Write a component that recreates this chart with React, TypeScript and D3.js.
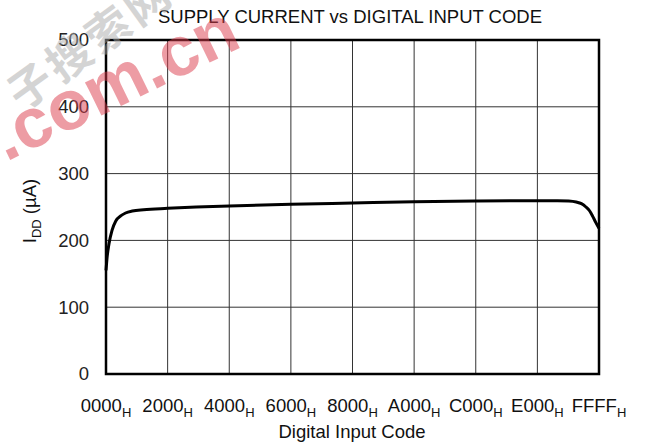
import React from "react";
import * as d3 from "d3";

const codes = [0, 150, 400, 800, 1300, 2000, 2600, 3500, 5000, 8192, 12000, 16384, 24576, 32768, 40960, 49152, 57344, 60000, 61500, 62500, 63200, 63800, 64300, 64700, 65100, 65535];
const currents = [155, 175, 195, 215, 229, 237, 241, 244, 246, 248, 250, 251.5, 254, 256, 258, 259, 259.5, 259.5, 259, 257.5, 255, 250, 244, 236, 227, 218];
const xTicks = [0, 8192, 16384, 24576, 32768, 40960, 49152, 57344, 65535];
const xTickLabels = ["0000", "2000", "4000", "6000", "8000", "A000", "C000", "E000", "FFFF"];
const yTicks = [0, 100, 200, 300, 400, 500];

const W = 648, H = 448;
const L = 106, R = 599, T = 40, B = 374;
const FONT = "'Liberation Sans', Arial, sans-serif";

export default function App() {
  const x = d3.scaleLinear().domain([0, 65535]).range([L, R]);
  const y = d3.scaleLinear().domain([0, 500]).range([B, T]);
  const pts = codes.map((c, i) => [c, currents[i]] as [number, number]);
  const line = d3.line<[number, number]>().x(d => x(d[0])).y(d => y(d[1])).curve(d3.curveMonotoneX);
  return (
    <svg width={W} height={H} style={{ position: "absolute", left: 0, top: 0, background: "#fff" }} fontFamily={FONT}>
      <rect x={0} y={0} width={W} height={H} fill="#fff" />
      {xTicks.slice(1, -1).map((t, i) => (
        <line key={"gx" + i} x1={x(t)} x2={x(t)} y1={T} y2={B} stroke="#333" strokeWidth={1} />
      ))}
      {yTicks.slice(1, -1).map((t, i) => (
        <line key={"gy" + i} x1={L} x2={R} y1={y(t)} y2={y(t)} stroke="#333" strokeWidth={1} />
      ))}
      <path d={line(pts) || ""} fill="none" stroke="#000" strokeWidth={3} strokeLinejoin="round" />
      <rect x={L} y={T} width={R - L} height={B - T} fill="none" stroke="#000" strokeWidth={2.5} />
      {yTicks.map((t, i) => (
        <text key={"yt" + i} x={89} y={y(t)} dy="0.35em" textAnchor="end" fontSize={18.5} fill="#222">{t}</text>
      ))}
      {xTicks.map((t, i) => (
        <text key={"xt" + i} x={x(t)} y={412} textAnchor="middle" fontSize={18.5} fill="#111">
          {xTickLabels[i]}
          <tspan fontSize={13} dy={5}>H</tspan>
        </text>
      ))}
      <text x={352} y={438} textAnchor="middle" fontSize={18.5} fill="#111">Digital Input Code</text>
      <text x={350} y={23} textAnchor="middle" fontSize={18.5} fill="#111">SUPPLY CURRENT vs DIGITAL INPUT CODE</text>
      <text transform={`translate(36,211) rotate(-90)`} textAnchor="middle" fontSize={18.5} fill="#111">
        I<tspan fontSize={13} dy={5}>DD</tspan><tspan dy={-5}> (µA)</tspan>
      </text>
      <g opacity={0.5}>
        <text transform="translate(6,162) rotate(-26)" fontSize={70} fontWeight="bold" fill="#dc3c4c" fontFamily={FONT}>.com.cn</text>
        <text transform="translate(22,112) rotate(-36)" fontSize={44} fontWeight="bold" fill="#aaa" letterSpacing={4} fontFamily="'Noto Sans CJK SC'">子搜索网</text>
      </g>
    </svg>
  );
}
